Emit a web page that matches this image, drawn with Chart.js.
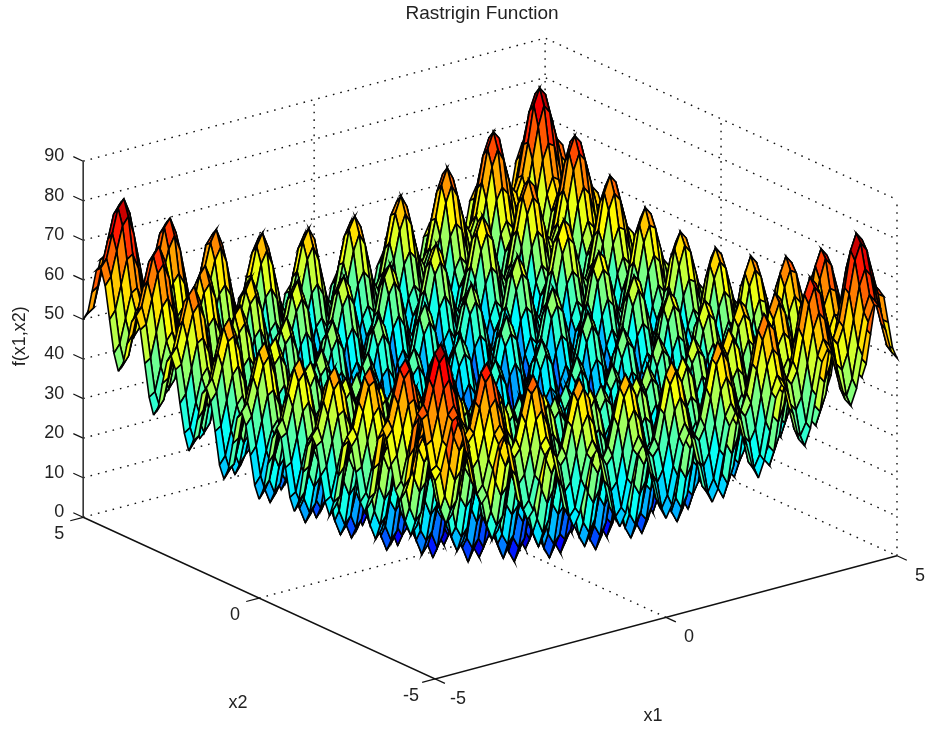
<!DOCTYPE html>
<html>
<head>
<meta charset="utf-8">
<title>Rastrigin Function</title>
<style>
    html, body { margin: 0; padding: 0; background: #fff; overflow: hidden; }
    canvas { display: block; filter: blur(0.45px); }
</style>
<script src="https://cdn.jsdelivr.net/npm/chart.js@4"></script>
</head>
<body>
<canvas id="chart" width="926" height="734"></canvas>
<script>
/* Grid of the mesh: one sample every eighth of a unit on both axes */
const gridValues = [-5, -4.875, -4.75, -4.625, -4.5, -4.375, -4.25, -4.125, -4, -3.875, -3.75, -3.625, -3.5, -3.375, -3.25, -3.125,
    -3, -2.875, -2.75, -2.625, -2.5, -2.375, -2.25, -2.125, -2, -1.875, -1.75, -1.625, -1.5, -1.375, -1.25, -1.125,
    -1, -0.875, -0.75, -0.625, -0.5, -0.375, -0.25, -0.125, 0, 0.125, 0.25, 0.375, 0.5, 0.625, 0.75, 0.875,
    1, 1.125, 1.25, 1.375, 1.5, 1.625, 1.75, 1.875, 2, 2.125, 2.25, 2.375, 2.5, 2.625, 2.75, 2.875,
    3, 3.125, 3.25, 3.375, 3.5, 3.625, 3.75, 3.875, 4, 4.125, 4.25, 4.375, 4.5, 4.625, 4.75, 4.875, 5];

/* f(x1,x2) for x1 >= 0 (rows) and x2 >= 0 (columns). The surface in the picture
   mirrors across both axes, so the other three quadrants look up this table. */
const zQuadrant = [
    [0,3,10,17,20,18,11,4,1,4,12,19,22,20,13,7,4,8,15,23,26,24,18,11,9,13,21,29,32,30,24,18,16,20,28,36,40,39,33,27,25],
    [3,6,13,20,23,20,14,7,4,7,15,22,25,23,16,9,7,10,18,26,29,27,21,14,12,16,24,31,35,33,27,21,19,23,31,39,43,41,36,30,28],
    [10,13,20,27,30,28,21,14,11,14,22,29,32,30,23,17,14,18,25,33,36,34,28,21,19,23,31,39,42,40,34,28,26,30,38,46,50,49,43,37,35],
    [17,20,27,34,38,35,28,21,18,21,29,36,40,37,30,24,21,25,32,40,44,41,35,28,26,30,38,46,50,47,41,35,33,37,45,53,58,56,50,44,42],
    [20,23,30,38,41,38,31,24,21,25,32,39,43,40,33,27,24,28,35,43,47,44,38,32,29,33,41,49,53,51,44,38,36,40,48,57,61,59,53,47,45],
    [18,20,28,35,38,35,28,21,19,22,29,37,40,37,31,24,22,25,33,40,44,42,35,29,27,30,38,46,50,48,42,36,34,38,46,54,58,56,50,44,43],
    [11,14,21,28,31,28,21,14,12,15,22,30,33,30,24,17,15,18,26,33,37,35,28,22,20,23,31,39,43,41,35,29,27,31,39,47,51,49,43,37,36],
    [4,7,14,21,24,21,14,7,5,8,15,23,26,23,17,10,8,11,19,26,30,28,21,15,13,16,24,32,36,34,28,22,20,24,32,40,44,42,36,30,29],
    [1,4,11,18,21,19,12,5,2,5,13,20,23,21,14,8,5,9,16,24,27,25,19,12,10,14,22,30,33,31,25,19,17,21,29,37,41,40,34,28,26],
    [4,7,14,21,25,22,15,8,5,8,16,23,27,24,17,11,8,12,19,27,31,28,22,15,13,17,25,33,37,34,28,22,20,24,32,40,45,43,37,31,29],
    [12,15,22,29,32,29,22,15,13,16,23,31,34,31,25,18,16,19,27,34,38,36,29,23,21,24,32,40,44,42,36,30,28,32,40,48,52,50,44,38,37],
    [19,22,29,36,39,37,30,23,20,23,31,38,41,39,32,26,23,27,34,42,45,43,37,30,28,32,40,48,51,49,43,37,35,39,47,55,59,58,52,46,44],
    [22,25,32,40,43,40,33,26,23,27,34,41,45,42,35,29,26,30,37,45,49,46,40,34,31,35,43,51,55,53,46,40,38,42,50,59,63,61,55,49,47],
    [20,23,30,37,40,37,30,23,21,24,31,39,42,39,33,26,24,27,35,42,46,44,37,31,29,32,40,48,52,50,44,38,36,40,48,56,60,58,52,46,45],
    [13,16,23,30,33,31,24,17,14,17,25,32,35,33,26,20,17,21,28,36,39,37,31,24,22,26,34,42,45,43,37,31,29,33,41,49,53,52,46,40,38],
    [7,9,17,24,27,24,17,10,8,11,18,26,29,26,20,13,11,14,22,29,33,31,24,18,16,19,27,35,39,37,31,25,23,27,35,43,47,45,39,33,32],
    [4,7,14,21,24,22,15,8,5,8,16,23,26,24,17,11,8,12,19,27,30,28,22,15,13,17,25,33,36,34,28,22,20,24,32,40,44,43,37,31,29],
    [8,10,18,25,28,25,18,11,9,12,19,27,30,27,21,14,12,15,23,30,34,32,25,19,17,20,28,36,40,38,32,26,24,28,36,44,48,46,40,34,33],
    [15,18,25,32,35,33,26,19,16,19,27,34,37,35,28,22,19,23,30,38,41,39,33,26,24,28,36,44,47,45,39,33,31,35,43,51,55,54,48,42,40],
    [23,26,33,40,43,40,33,26,24,27,34,42,45,42,36,29,27,30,38,45,49,47,40,34,32,35,43,51,55,53,47,41,39,43,51,59,63,61,55,49,48],
    [26,29,36,44,47,44,37,30,27,31,38,45,49,46,39,33,30,34,41,49,53,50,44,38,35,39,47,55,59,57,50,44,42,46,54,63,67,65,59,53,51],
    [24,27,34,41,44,42,35,28,25,28,36,43,46,44,37,31,28,32,39,47,50,48,42,35,33,37,45,53,56,54,48,42,40,44,52,60,64,63,57,51,49],
    [18,21,28,35,38,35,28,21,19,22,29,37,40,37,31,24,22,25,33,40,44,42,35,29,27,30,38,46,50,48,42,36,34,38,46,54,58,56,50,44,43],
    [11,14,21,28,32,29,22,15,12,15,23,30,34,31,24,18,15,19,26,34,38,35,29,22,20,24,32,40,44,41,35,29,27,31,39,47,52,50,44,38,36],
    [9,12,19,26,29,27,20,13,10,13,21,28,31,29,22,16,13,17,24,32,35,33,27,20,18,22,30,38,41,39,33,27,25,29,37,45,49,48,42,36,34],
    [13,16,23,30,33,30,23,16,14,17,24,32,35,32,26,19,17,20,28,35,39,37,30,24,22,25,33,41,45,43,37,31,29,33,41,49,53,51,45,39,38],
    [21,24,31,38,41,38,31,24,22,25,32,40,43,40,34,27,25,28,36,43,47,45,38,32,30,33,41,49,53,51,45,39,37,41,49,57,61,59,53,47,46],
    [29,31,39,46,49,46,39,32,30,33,40,48,51,48,42,35,33,36,44,51,55,53,46,40,38,41,49,57,61,59,53,47,45,49,57,65,69,67,61,55,54],
    [32,35,42,50,53,50,43,36,33,37,44,51,55,52,45,39,36,40,47,55,59,56,50,44,41,45,53,61,65,63,56,50,48,52,60,69,73,71,65,59,57],
    [30,33,40,47,51,48,41,34,31,34,42,49,53,50,43,37,34,38,45,53,57,54,48,41,39,43,51,59,63,60,54,48,46,50,58,66,71,69,63,57,55],
    [24,27,34,41,44,42,35,28,25,28,36,43,46,44,37,31,28,32,39,47,50,48,42,35,33,37,45,53,56,54,48,42,40,44,52,60,64,63,57,51,49],
    [18,21,28,35,38,36,29,22,19,22,30,37,40,38,31,25,22,26,33,41,44,42,36,29,27,31,39,47,50,48,42,36,34,38,46,54,58,57,51,45,43],
    [16,19,26,33,36,34,27,20,17,20,28,35,38,36,29,23,20,24,31,39,42,40,34,27,25,29,37,45,48,46,40,34,32,36,44,52,56,55,49,43,41],
    [20,23,30,37,40,38,31,24,21,24,32,39,42,40,33,27,24,28,35,43,46,44,38,31,29,33,41,49,52,50,44,38,36,40,48,56,60,59,53,47,45],
    [28,31,38,45,48,46,39,32,29,32,40,47,50,48,41,35,32,36,43,51,54,52,46,39,37,41,49,57,60,58,52,46,44,48,56,64,68,67,61,55,53],
    [36,39,46,53,57,54,47,40,37,40,48,55,59,56,49,43,40,44,51,59,63,60,54,47,45,49,57,65,69,66,60,54,52,56,64,72,77,75,69,63,61],
    [40,43,50,58,61,58,51,44,41,45,52,59,63,60,53,47,44,48,55,63,67,64,58,52,49,53,61,69,73,71,64,58,56,60,68,77,81,79,73,67,65],
    [39,41,49,56,59,56,49,42,40,43,50,58,61,58,52,45,43,46,54,61,65,63,56,50,48,51,59,67,71,69,63,57,55,59,67,75,79,77,71,65,64],
    [33,36,43,50,53,50,43,36,34,37,44,52,55,52,46,39,37,40,48,55,59,57,50,44,42,45,53,61,65,63,57,51,49,53,61,69,73,71,65,59,58],
    [27,30,37,44,47,44,37,30,28,31,38,46,49,46,40,33,31,34,42,49,53,51,44,38,36,39,47,55,59,57,51,45,43,47,55,63,67,65,59,53,52],
    [25,28,35,42,45,43,36,29,26,29,37,44,47,45,38,32,29,33,40,48,51,49,43,36,34,38,46,54,57,55,49,43,41,45,53,61,65,64,58,52,50],
];

const x1Ticks = [-5, 0, 5];
const x2Ticks = [-5, 0, 5];
const zTicks = [0, 10, 20, 30, 40, 50, 60, 70, 80, 90];

const AZ = 37.3 * Math.PI / 180;
const EL = 29.7 * Math.PI / 180;
const Z_SCALE = 10 / 90;      // z range squeezed to the width of the box
const Z_MAX = 81;
const TICK = 0.28;            // tick length in x1/x2 units
const FONT = "'Liberation Sans', Arial, sans-serif";

/* Orthographic view, the scales below turn this into pixels */
function project(x1, x2, z) {
    return {
        x: x1 * Math.cos(AZ) - x2 * Math.sin(AZ),
        y: (x1 * Math.sin(AZ) + x2 * Math.cos(AZ)) * Math.sin(EL) + z * Z_SCALE * Math.cos(EL),
    };
}

function jet(t) {
    const ramp = (v) => Math.round(255 * Math.max(0, Math.min(1, v)));
    const r = ramp(1.5 - Math.abs(4 * t - 3));
    const g = ramp(1.5 - Math.abs(4 * t - 2));
    const b = ramp(1.5 - Math.abs(4 * t - 1));
    return `rgb(${r},${g},${b})`;
}

const MID = (gridValues.length - 1) / 2;
const zAt = (i, j) => zQuadrant[Math.abs(i - MID)][Math.abs(j - MID)];

function lineSet(points, color, width, dash) {
    return {
        data: points.map((p) => project(p[0], p[1], p[2])),
        showLine: true,
        fill: false,
        borderColor: color,
        borderWidth: width,
        borderDash: dash || [],
        pointRadius: 0,
        clip: false,
    };
}

const datasets = [];

/* Chart.js paints the first dataset last, so the faces nearest the viewer go first */
for (let i = 0; i < gridValues.length - 1; i++) {
    for (let j = 0; j < gridValues.length - 1; j++) {
        const a = gridValues[i], b = gridValues[i + 1];
        const c = gridValues[j], d = gridValues[j + 1];
        datasets.push({
            data: [
                project(a, c, zAt(i, j)),
                project(b, c, zAt(i + 1, j)),
                project(b, d, zAt(i + 1, j + 1)),
                project(a, d, zAt(i, j + 1)),
                project(a, c, zAt(i, j)),
            ],
            showLine: true,
            fill: 'shape',
            backgroundColor: jet(zAt(i, j) / Z_MAX),
            borderColor: '#000',
            borderWidth: 1.6,
            pointRadius: 0,
            clip: false,
        });
    }
}

/* Solid axes and their ticks */
const AXIS = '#111';
datasets.push(lineSet([[-5, 5, 0], [-5, -5, 0], [5, -5, 0]], AXIS, 1.5));
datasets.push(lineSet([[-5, 5, 0], [-5, 5, 90]], '#333', 1.6));
x1Ticks.forEach((t) => datasets.push(lineSet([[t, -5, 0], [t, -5 - TICK, 0]], AXIS, 1.2)));
x2Ticks.forEach((t) => datasets.push(lineSet([[-5, t, 0], [-5 - TICK, t, 0]], AXIS, 1.2)));
zTicks.forEach((t) => datasets.push(lineSet([[-5, 5, t], [-5, 5 + TICK, t]], AXIS, 1.2)));

/* Dotted grid on the floor and the two back walls, each path drawn only once */
const DOT = [1.6, 6];
const GRID = '#111';
zTicks.forEach((t) => datasets.push(lineSet([[-5, 5, t], [5, 5, t], [5, -5, t]], GRID, 1.4, DOT)));
datasets.push(lineSet([[0, -5, 0], [0, 5, 0], [0, 5, 90]], GRID, 1.4, DOT));
datasets.push(lineSet([[-5, 0, 0], [5, 0, 0], [5, 0, 90]], GRID, 1.4, DOT));
datasets.push(lineSet([[5, 5, 0], [5, 5, 90]], GRID, 1.4, DOT));
datasets.push(lineSet([[5, -5, 0], [5, -5, 90]], GRID, 1.4, DOT));

/* Tick and axis labels sit at a pixel offset from the projected axis position */
const axisText = {
    id: 'axisText',
    afterDraw(chart) {
        const { ctx, scales } = chart;
        const put = (p, dx, dy, text, align, rot) => {
            const q = project(p[0], p[1], p[2]);
            ctx.save();
            ctx.translate(scales.x.getPixelForValue(q.x) + dx, scales.y.getPixelForValue(q.y) + dy);
            if (rot) ctx.rotate(rot);
            ctx.font = `18px ${FONT}`;
            ctx.fillStyle = '#222';
            ctx.textAlign = align;
            ctx.textBaseline = 'middle';
            ctx.fillText(text, 0, 0);
            ctx.restore();
        };
        zTicks.forEach((t) => put([-5, 5, t], -19, -5, String(t), 'right'));
        x1Ticks.forEach((t) => put([t, -5, 0], 23, 20, String(t), 'center'));
        x2Ticks.forEach((t) => put([-5, t, 0], -24, 17, String(t), 'center'));
        put([0, -5, 0], -13, 99, 'x1', 'center');
        put([-5, 0, 0], -21, 105, 'x2', 'center');
        put([-5, 5, 45], -63, -3, 'f(x1,x2)', 'center', -Math.PI / 2);
    },
};

new Chart(document.getElementById('chart'), {
    type: 'scatter',
    data: { datasets },
    plugins: [axisText],
    options: {
        responsive: false,
        animation: false,
        events: [],
        devicePixelRatio: 1,
        layout: { padding: { left: 67, right: 29, top: 0, bottom: 55 } },
        plugins: {
            legend: { display: false },
            tooltip: { enabled: false },
            title: {
                display: true,
                text: 'Rastrigin Function',
                color: '#222',
                font: { family: FONT, size: 19, weight: 'normal', lineHeight: 1.2 },
                padding: { top: 2, bottom: 13.2 },
            },
        },
        scales: {
            x: { type: 'linear', display: false, min: -7.286, max: 7.0075 },
            y: { type: 'linear', display: false, min: -3.4745, max: 12.16 },
        },
    },
});
</script>
</body>
</html>
